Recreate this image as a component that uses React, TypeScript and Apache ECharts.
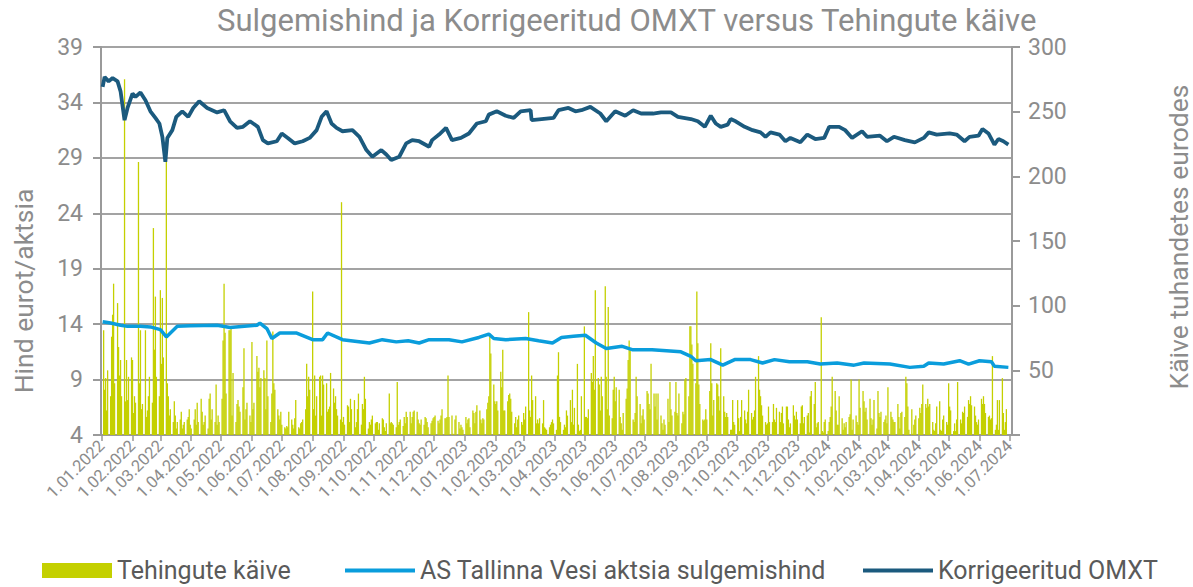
import React, { useEffect, useRef } from "react";
import * as echarts from "echarts";

const TITLE = "Sulgemishind ja Korrigeeritud OMXT versus Tehingute käive";
const LEFT_AXIS_NAME = "Hind eurot/aktsia";
const RIGHT_AXIS_NAME = "Käive tuhandetes eurodes";
const NAME_BARS = "Tehingute käive";
const NAME_PRICE = "AS Tallinna Vesi aktsia sulgemishind";
const NAME_OMXT = "Korrigeeritud OMXT";

// Left axis (eurot/aktsia) and right axis (tuhandetes eurodes) ranges
const PRICE_MIN = 4;
const PRICE_MAX = 39;
const PRICE_STEP = 5;
const TURNOVER_MIN = 0;
const TURNOVER_MAX = 300;
const TURNOVER_STEP = 50;

// Daily turnover (thousand EUR), one inner array per month, one value per trading day
const turnover2022: number[][] = [
  [81, 35, 44, 19, 50, 30, 76, 93, 117, 40, 102, 68, 46, 58, 30, 275, 26, 58, 27, 45, 60],
  [58, 17, 30, 25, 211, 40, 81, 20, 24, 81, 14, 19, 30, 45, 25, 160, 66, 107, 45, 30],
  [112, 55, 106, 60, 215, 40, 30, 15, 20, 10, 26, 15, 5, 10, 12, 18, 5, 8, 10, 12, 14, 20, 8],
  [5, 12, 20, 8, 25, 10, 28, 18, 8, 10, 15, 5, 28, 32, 12, 20, 10, 39, 8, 15, 10],
  [28, 73, 117, 79, 32, 81, 81, 82, 15, 48, 10, 24, 27, 22, 18, 37, 67, 12, 20, 25, 15, 10],
  [72, 20, 25, 61, 49, 52, 37, 44, 50, 44, 20, 73, 30, 10, 32, 80, 40, 35, 20, 15, 12, 18],
  [8, 6, 5, 7, 6, 18, 12, 8, 5, 13, 27, 6, 5, 9, 10, 12, 20, 55, 30, 45, 35],
  [111, 20, 46, 15, 30, 45, 46, 15, 46, 39, 40, 18, 20, 22, 48, 36, 25, 30, 20, 15, 12, 180, 10],
  [14, 8, 23, 22, 10, 28, 20, 27, 6, 10, 20, 32, 8, 24, 20, 45, 28, 5, 10, 8, 12, 15],
  [9, 10, 10, 4, 9, 13, 12, 6, 3, 9, 32, 9, 10, 9, 8, 6, 41, 8, 10, 12, 7],
  [14, 9, 18, 14, 18, 9, 14, 18, 19, 18, 12, 9, 8, 12, 8, 14, 13, 10, 6, 9, 11, 13],
  [14, 15, 11, 9, 12, 15, 20, 13, 13, 14, 46, 14, 15, 1, 0, 12, 15, 10, 5, 8, 6, 4],
];
const turnover2023: number[][] = [
  [14, 9, 12, 13, 6, 19, 17, 9, 18, 23, 19, 12, 9, 13, 12, 20, 25, 30, 76, 63, 39, 26],
  [24, 26, 19, 49, 37, 66, 19, 19, 26, 31, 32, 28, 18, 9, 14, 6, 12, 15, 10, 8],
  [17, 12, 22, 95, 19, 14, 46, 27, 30, 9, 12, 9, 13, 9, 27, 6, 5, 4, 6, 8, 10, 12, 9],
  [4, 46, 64, 14, 10, 4, 8, 6, 19, 15, 27, 10, 35, 8, 21, 55, 8, 3, 4, 30],
  [84, 14, 14, 13, 20, 48, 41, 61, 35, 112, 44, 39, 19, 45, 30, 115, 45, 20, 99, 15, 13, 35, 45],
  [26, 37, 35, 14, 9, 4, 17, 28, 36, 58, 73, 66, 12, 10, 17, 45, 30, 24, 9, 15, 20, 12],
  [34, 32, 24, 20, 55, 32, 22, 32, 12, 32, 15, 9, 4, 12, 8, 28, 10, 41, 20, 15, 18],
  [41, 17, 15, 32, 9, 18, 16, 43, 44, 30, 84, 84, 70, 55, 40, 111, 71, 39, 24, 12, 11, 12, 20],
  [12, 34, 71, 40, 15, 27, 40, 39, 30, 19, 67, 30, 18, 14, 17, 14, 4, 4, 27, 10, 8],
  [27, 13, 3, 14, 27, 19, 12, 9, 18, 35, 17, 12, 14, 19, 45, 61, 35, 30, 23, 15, 10, 8],
  [9, 22, 10, 10, 24, 12, 10, 21, 18, 10, 17, 22, 9, 22, 22, 12, 6, 9, 23, 15, 12, 18],
  [12, 9, 22, 23, 9, 14, 15, 17, 2, 30, 34, 24, 41, 6, 9, 10, 91, 3, 2, 10, 12],
];
const turnover2024: number[][] = [
  [3, 10, 14, 22, 45, 34, 19, 8, 8, 30, 13, 4, 9, 6, 10, 14, 16, 43, 4, 12, 15, 10, 8],
  [43, 21, 34, 26, 18, 21, 12, 28, 13, 8, 12, 27, 5, 34, 17, 14, 18, 10, 12, 15, 9],
  [37, 18, 14, 12, 10, 10, 24, 14, 5, 17, 18, 14, 45, 40, 22, 4, 20, 1, 8, 12, 15],
  [13, 21, 17, 24, 39, 24, 21, 28, 22, 24, 10, 4, 3, 9, 22, 26, 4, 3, 12, 15, 10, 8],
  [40, 22, 19, 3, 9, 3, 12, 41, 12, 9, 18, 17, 22, 14, 27, 24, 30, 23, 22, 15, 10, 8, 12],
  [28, 24, 30, 24, 17, 14, 15, 12, 13, 61, 4, 8, 27, 4, 27, 44, 17, 4, 10, 20],
];

// Closing price (EUR), [days since 1.01.2022, value]
const pricePoints: [number, number][] = [
  [1, 14.22], [9, 14.1], [19, 13.9], [26, 13.8], [39, 13.8], [49, 13.75], [59, 13.5], [65, 12.85],
  [76, 13.8], [89, 13.85], [116, 13.9], [129, 13.7], [156, 13.9], [159, 14.1], [166, 13.6],
  [171, 12.7], [179, 13.2], [196, 13.2], [212, 12.6], [222, 12.6], [227, 13.2], [242, 12.6],
  [269, 12.3], [282, 12.6], [296, 12.4], [308, 12.5], [319, 12.3], [329, 12.6], [349, 12.6],
  [362, 12.4], [379, 12.8], [389, 13.1], [394, 12.7], [406, 12.6], [426, 12.7], [439, 12.5],
  [453, 12.3], [462, 12.8], [474, 12.9], [486, 13.0], [497, 12.3], [507, 11.8], [523, 12.0],
  [533, 11.7], [553, 11.7], [582, 11.5], [592, 11.1], [597, 10.7], [612, 10.8], [624, 10.3],
  [636, 10.8], [652, 10.8], [664, 10.5], [676, 10.8], [691, 10.6], [709, 10.6], [722, 10.4],
  [739, 10.5], [756, 10.3], [766, 10.5], [792, 10.4], [812, 10.1], [826, 10.2], [831, 10.5],
  [846, 10.4], [862, 10.7], [871, 10.4], [882, 10.7], [894, 10.6], [897, 10.2], [911, 10.1],
];

// Adjusted OMXT, scaled to price axis, [days since 1.01.2022, value]
const omxtPoints: [number, number][] = [
  [1, 35.4], [3, 36.3], [7, 35.9], [11, 36.2], [16, 35.9], [19, 35.0], [23, 32.4], [26, 33.5],
  [31, 34.8], [34, 34.5], [39, 34.9], [44, 34.2], [49, 33.2], [54, 32.6], [58, 32.1], [61, 30.9],
  [64, 28.65], [66, 30.8], [71, 31.5], [75, 32.7], [81, 33.2], [87, 32.7], [92, 33.5], [98, 34.1],
  [106, 33.5], [116, 33.1], [123, 33.3], [129, 32.3], [136, 31.7], [142, 31.8], [149, 32.3],
  [157, 31.8], [162, 30.6], [167, 30.3], [176, 30.5], [181, 31.2], [187, 30.8], [194, 30.3],
  [202, 30.5], [209, 30.8], [216, 31.5], [221, 32.7], [226, 33.2], [231, 32.1], [236, 31.7],
  [242, 31.4], [252, 31.5], [259, 30.9], [266, 29.7], [272, 29.1], [281, 29.7], [286, 29.3],
  [291, 28.8], [299, 29.1], [306, 30.3], [312, 30.6], [319, 30.5], [329, 30.0], [332, 30.6],
  [339, 31.1], [346, 31.7], [352, 30.6], [361, 30.8], [369, 31.2], [377, 32.1], [386, 32.3],
  [389, 32.9], [397, 33.2], [406, 32.8], [414, 32.6], [421, 33.2], [431, 33.3], [432, 32.4],
  [442, 32.5], [454, 32.6], [459, 33.3], [469, 33.5], [476, 33.2], [482, 33.3], [491, 33.6],
  [501, 33.0], [507, 32.3], [516, 33.2], [526, 32.8], [534, 33.3], [542, 33.0], [554, 33.0],
  [562, 33.1], [572, 33.1], [579, 32.7], [592, 32.5], [599, 32.3], [606, 31.8], [612, 32.8],
  [617, 32.1], [622, 31.8], [629, 32.0], [632, 32.5], [637, 32.3], [646, 31.8], [654, 31.5],
  [662, 31.3], [667, 30.9], [672, 31.3], [681, 31.1], [687, 30.5], [692, 30.8], [702, 30.4],
  [709, 31.1], [717, 30.7], [726, 30.8], [731, 31.8], [741, 31.8], [747, 31.5], [754, 30.8],
  [764, 31.4], [769, 30.9], [782, 31.0], [789, 30.5], [796, 30.9], [807, 30.6], [817, 30.4],
  [826, 30.8], [831, 31.3], [839, 31.1], [852, 31.2], [859, 31.1], [867, 30.5], [872, 30.9],
  [881, 31.0], [885, 31.6], [891, 31.2], [897, 30.2], [901, 30.7], [906, 30.5], [911, 30.2],
];

const FONT = "Roboto, 'DejaVu Sans', sans-serif";
const GREY = "#8c8c8c";

function dayTs(day: number): number {
  return new Date(2022, 0, 1 + day).getTime();
}

function buildBars(): [number, number][] {
  const out: [number, number][] = [];
  const years: [number, number[][]][] = [
    [2022, turnover2022],
    [2023, turnover2023],
    [2024, turnover2024],
  ];
  for (const [year, months] of years) {
    months.forEach((vals, m) => {
      let i = 0;
      const daysInMonth = new Date(year, m + 1, 0).getDate();
      for (let d = 1; d <= daysInMonth && i < vals.length; d++) {
        const dt = new Date(year, m, d);
        const wd = dt.getDay();
        if (wd === 0 || wd === 6) continue;
        out.push([dt.getTime(), vals[i]]);
        i++;
      }
    });
  }
  return out;
}

function fmtDate(v: number): string {
  const d = new Date(v);
  return `${d.getDate()}.${String(d.getMonth() + 1).padStart(2, "0")}.${d.getFullYear()}`;
}

export default function App() {
  const ref = useRef<HTMLDivElement>(null);
  useEffect(() => {
    if (!ref.current) return;
    const chart = echarts.init(ref.current, undefined, { renderer: "svg" });
    const legendCommon = {
      top: 553,
      itemWidth: 70,
      textStyle: { fontSize: 25, color: "#5a5a5a", fontFamily: FONT },
      selectedMode: false as const,
    };
    chart.setOption({
      animation: false,
      backgroundColor: "#ffffff",
      title: {
        text: TITLE,
        left: 212,
        top: 0,
        textStyle: { fontSize: 31, color: GREY, fontWeight: "normal", fontFamily: FONT },
      },
      grid: { left: 101, right: 181, top: 47, bottom: 152, containLabel: false },
      legend: [
        { ...legendCommon, left: 37, itemHeight: 15, data: [{ name: NAME_BARS, icon: "rect" }] },
        { ...legendCommon, left: 340, itemHeight: 4, data: [{ name: NAME_PRICE, icon: "rect" }] },
        { ...legendCommon, left: 858, itemHeight: 4, data: [{ name: NAME_OMXT, icon: "rect" }] },
      ],
      xAxis: {
        type: "time",
        min: new Date(2022, 0, 1).getTime(),
        max: new Date(2024, 6, 3).getTime(),
        minInterval: 28 * 86400000,
        maxInterval: 31 * 86400000,
        axisLine: { show: true, lineStyle: { color: "#9a9a9a", width: 2 } },
        axisTick: { show: true, length: 6, lineStyle: { color: "#9a9a9a", width: 1.5 } },
        axisLabel: {
          rotate: 45,
          formatter: (v: number) => fmtDate(v),
          color: GREY,
          fontSize: 16.5,
          fontFamily: FONT,
          margin: 8,
          hideOverlap: false,
        },
        splitLine: { show: false },
      },
      yAxis: [
        {
          type: "value",
          min: PRICE_MIN,
          max: PRICE_MAX,
          interval: PRICE_STEP,
          axisLine: { show: true, lineStyle: { color: "#9a9a9a", width: 2 } },
          axisTick: { show: true, length: 8, lineStyle: { color: "#9a9a9a", width: 2 } },
          axisLabel: { color: GREY, fontSize: 23, fontFamily: FONT, margin: 18 },
          splitLine: { show: true, lineStyle: { color: "#a3a3a3", width: 2 } },
        },
        {
          type: "value",
          min: TURNOVER_MIN,
          max: TURNOVER_MAX,
          interval: TURNOVER_STEP,
          position: "right",
          axisLine: { show: true, lineStyle: { color: "#9a9a9a", width: 2 } },
          axisTick: { show: true, length: 8, lineStyle: { color: "#9a9a9a", width: 2 } },
          axisLabel: {
            color: GREY,
            fontSize: 23,
            fontFamily: FONT,
            margin: 16,
            formatter: (v: number) => (v === 0 ? "" : String(v)),
          },
          splitLine: { show: false },
        },
      ],
      graphic: [
        {
          type: "text",
          x: 23,
          y: 291,
          rotation: Math.PI / 2,
          style: {
            text: LEFT_AXIS_NAME,
            fontSize: 26.5,
            fill: GREY,
            fontFamily: FONT,
            align: "center",
            verticalAlign: "middle",
          },
        },
        {
          type: "text",
          x: 1178,
          y: 237,
          rotation: Math.PI / 2,
          style: {
            text: RIGHT_AXIS_NAME,
            fontSize: 26.5,
            fill: GREY,
            fontFamily: FONT,
            align: "center",
            verticalAlign: "middle",
          },
        },
      ],
      series: [
        {
          name: NAME_BARS,
          type: "bar",
          yAxisIndex: 1,
          barWidth: 1.3,
          itemStyle: { color: "#c4d000" },
          data: buildBars(),
          z: 1,
        },
        {
          name: NAME_PRICE,
          type: "line",
          yAxisIndex: 0,
          symbol: "none",
          showSymbol: false,
          lineStyle: { color: "#0a9ddc", width: 3.5 },
          itemStyle: { color: "#0a9ddc" },
          data: pricePoints.map(([d, v]) => [dayTs(d), v]),
          z: 3,
        },
        {
          name: NAME_OMXT,
          type: "line",
          yAxisIndex: 0,
          symbol: "none",
          showSymbol: false,
          lineStyle: { color: "#1b5a7e", width: 3.8 },
          itemStyle: { color: "#1b5a7e" },
          data: omxtPoints.map(([d, v]) => [dayTs(d), v]),
          z: 4,
        },
      ],
    });
    return () => chart.dispose();
  }, []);
  return (
    <div
      ref={ref}
      style={{ position: "fixed", left: 0, top: 0, width: 1193, height: 587 }}
    />
  );
}
